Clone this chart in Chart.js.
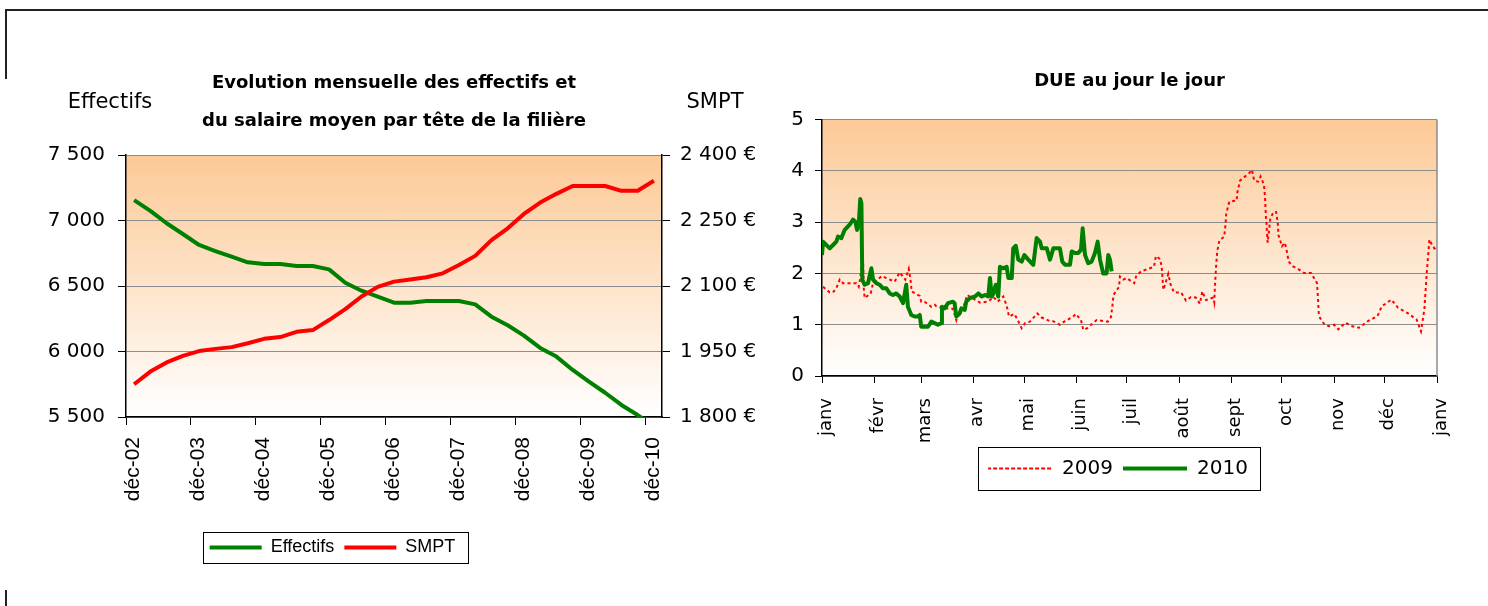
<!DOCTYPE html>
<html lang="fr">
<head>
<meta charset="utf-8">
<title>Effectifs, SMPT et DUE</title>
<script src="https://cdn.jsdelivr.net/npm/chart.js@4.4.1/dist/chart.umd.min.js"></script>
<style>
  body { margin: 0; background: #fff; width: 1488px; height: 606px; overflow: hidden; position: relative; }
  canvas { position: absolute; top: 0; }
  #effectifs { left: 0; }
  #due { left: 770px; }
  .trait { position: absolute; background: #222; }
</style>
</head>
<body>
<div class="trait" style="left:5px;top:9px;width:1483px;height:2px"></div>
<div class="trait" style="left:5px;top:9px;width:2px;height:70px"></div>
<div class="trait" style="left:5px;top:590px;width:2px;height:16px"></div>
<canvas id="effectifs" width="770" height="606"></canvas>
<canvas id="due" width="718" height="606"></canvas>
<script>
console.log('graphiques charges');

// ---- graphique de gauche : un point par trimestre (T1 2003 -> T1 2011)
const etiquettesDec = ['déc-02', 'déc-03', 'déc-04', 'déc-05', 'déc-06', 'déc-07', 'déc-08', 'déc-09', 'déc-10'];
const effectifs = [7156, 7073, 6979, 6897, 6813, 6767, 6724, 6681, 6668, 6668, 6653,
                   6653, 6627, 6525, 6464, 6418, 6373, 6373, 6385, 6385, 6385, 6360,
                   6266, 6200, 6121, 6027, 5961, 5859, 5770, 5685, 5592, 5515, 5430];
const smpt = [1875, 1904, 1925, 1940, 1951, 1956, 1960, 1969, 1979, 1983, 1995,
              1999, 2022, 2047, 2076, 2098, 2110, 2115, 2120, 2129, 2148, 2169,
              2205, 2232, 2265, 2291, 2311, 2329, 2329, 2329, 2318, 2318, 2341];
const etiquettesEffectifs = ['5 500', '6 000', '6 500', '7 000', '7 500'];
const etiquettesSmpt = ['1 800 €', '1 950 €', '2 100 €', '2 250 €', '2 400 €'];

// ---- graphique de droite : DUE au jour le jour (jour de l'annee, valeur)
const moisDue = ['janv', 'févr', 'mars', 'avr', 'mai', 'juin', 'juil', 'août', 'sept', 'oct', 'nov', 'déc', 'janv'];
const debutsMois = [0, 31, 59, 90, 120, 151, 181, 212, 243, 273, 304, 334, 365];
const etiquettesDue = ['0', '1', '2', '3', '4', '5'];
const jours2009 = [0.6, 4.6, 6.5, 8.5, 10.5, 12.5, 15, 20.4, 21.8, 22.7, 23.3, 24.3, 24.8, 25.3, 28.9, 30.3,
  35.6, 38.2, 43.1, 46.1, 49.4, 51.5, 52.6, 53.2, 58, 58.9, 60.9, 64.9, 66.9, 68.2, 75.8, 77.7,
  79.7, 80.7, 83.7, 86.2, 93.8, 98.7, 101.7, 104.3, 107.6, 109.6, 111, 114.1, 115.9, 118.5, 120.5,
  123.4, 127.8, 130.4, 135.3, 137.1, 141.2, 144.2, 149.1, 150.6, 153.7, 155.1, 158, 159, 163,
  169.6, 171.5, 172.3, 173, 176.3, 176.8, 178.8, 180.8, 185.3, 186.4, 189.3, 192.7, 197, 198.2,
  200.6, 201.6, 202.1, 202.6, 203.6, 205.5, 206.9, 208.9, 213.1, 216, 219, 221.8, 224.3, 225.7,
  227.9, 232.2, 232.8, 233.2, 233.6, 234, 234.6, 235.8, 238.7, 239.5, 239.9, 241.7, 246.1, 246.5,
  248.1, 253.6, 255.2, 256.5, 258.9, 260.3, 262.3, 262.9, 263.2, 263.5, 263.8, 264, 264.2, 264.5,
  266.1, 268, 269.5, 270.5, 270.9, 273, 274.7, 275.7, 277, 279.3, 281.9, 286.1, 290.2, 293.8,
  294.4, 294.8, 295.6, 298.3, 300.9, 303.9, 306.5, 310.6, 314.7, 318.7, 324, 329.7, 332.3, 337.9,
  341.9, 347.4, 352.9, 355.5, 357.5, 358.9, 360.5, 362.4, 364.3];
const due2009 = [1.74, 1.63, 1.63, 1.71, 1.88, 1.81, 1.81, 1.81, 1.74, 1.91, 2.10, 2.36, 1.71, 1.52, 1.61, 1.81,
  1.95, 1.91, 1.84, 2.02, 1.88, 2.09, 1.86, 1.65, 1.56, 1.45, 1.45, 1.35, 1.39, 1.35, 1.31, 1.31,
  1.09, 1.22, 1.32, 1.58, 1.43, 1.45, 1.54, 1.45, 1.55, 1.37, 1.16, 1.21, 1.11, 0.93, 1.03,
  1.06, 1.22, 1.14, 1.07, 1.07, 1.00, 1.07, 1.16, 1.21, 1.09, 0.90, 0.94, 0.98, 1.09,
  1.06, 1.15, 1.35, 1.58, 1.74, 1.94, 1.88, 1.91, 1.81, 1.94, 2.04, 2.08, 2.13, 2.34,
  2.28, 2.13, 1.91, 1.68, 1.78, 1.99, 1.78, 1.63, 1.63, 1.47, 1.54, 1.53, 1.41, 1.65,
  1.48, 1.53, 1.44, 1.74, 1.97, 2.20, 2.43, 2.64, 2.72, 2.96, 3.16, 3.40, 3.42, 3.58,
  3.81, 3.96, 4.02, 3.81, 3.79, 3.89, 3.73, 3.50, 3.29, 3.08, 2.99, 2.84, 2.75, 2.60,
  3.07, 3.20, 3.20, 2.99, 2.75, 2.53, 2.60, 2.46, 2.23, 2.14, 2.10, 2.01, 2.01, 1.81,
  1.49, 1.23, 1.13, 1.00, 0.97, 1.00, 0.91, 1.04, 0.97, 0.94, 1.07, 1.17, 1.36, 1.49,
  1.33, 1.23, 1.10, 0.87, 1.30, 2.01, 2.66, 2.53, 2.46];
const jours2010 = [0, 0.6, 4.6, 6.7, 8.5, 9.5, 11.5, 13.5, 16.4, 18.4, 19.8, 20.8, 21.8, 22.7, 23.4, 23.9,
  25.3, 27.3, 29.3, 30.3, 32.2, 34.2, 36.2, 38.2, 40.2, 42.1, 44.1, 46.1, 48.1, 50, 51, 53,
  55, 57, 58, 58.9, 60.9, 62.9, 64.9, 66.9, 68.8, 70.8, 71.2, 72.8, 74.8, 77.7, 78.7, 79.7,
  81.7, 82.7, 84.7, 85.6, 87.7, 90.8, 92.8, 94.8, 96.7, 98.7, 99.7, 100.7, 101.7, 103.1, 104.6,
  105.6, 107.6, 109.6, 110.6, 112.6, 113.5, 115, 116.5, 118.5, 120.1, 122.4, 125.4, 127.4, 129.4,
  130.4, 133.4, 135.3, 137.3, 139.3, 141.2, 142.6, 144.2, 147.2, 148.2, 150.1, 152.1, 153.7, 154.7,
  156.1, 158, 160, 162, 163.6, 165, 166.9, 168.9, 169.9, 170.9, 171.9];
const due2010 = [2.36, 2.62, 2.49, 2.56, 2.62, 2.72, 2.69, 2.85, 2.95, 3.05, 3.01, 2.85, 2.95, 3.45, 3.37, 1.88,
  1.78, 1.81, 2.10, 1.88, 1.81, 1.78, 1.71, 1.71, 1.61, 1.58, 1.61, 1.55, 1.42, 1.78, 1.35, 1.19,
  1.16, 1.16, 1.19, 0.96, 0.96, 0.96, 1.06, 1.03, 1.00, 1.03, 1.35, 1.32, 1.42, 1.45, 1.42, 1.16,
  1.22, 1.32, 1.29, 1.45, 1.52, 1.55, 1.61, 1.55, 1.58, 1.55, 1.91, 1.55, 1.61, 1.78, 1.55,
  2.13, 2.10, 2.13, 1.91, 1.91, 2.49, 2.54, 2.27, 2.23, 2.36, 2.27, 2.17, 2.69, 2.62,
  2.49, 2.49, 2.27, 2.49, 2.49, 2.49, 2.23, 2.17, 2.17, 2.43, 2.40, 2.40, 2.46, 2.88,
  2.36, 2.20, 2.23, 2.40, 2.62, 2.27, 2.00, 2.00, 2.36, 2.27, 2.04];

const POLICE = "'Comic Sans MS', 'DejaVu Sans', sans-serif";
const POLICE_ARIAL = "Arial, 'Liberation Sans', sans-serif";
const VERT = '#008000';
const ROUGE = '#ff0000';
const GRILLE = '#8c8c8c';

// fond degrade peche -> blanc de la zone de trace
const fondDegrade = {
  id: 'fondDegrade',
  beforeDraw(chart) {
    const { ctx, chartArea: a } = chart;
    const g = ctx.createLinearGradient(0, a.top, 0, a.bottom);
    g.addColorStop(0, '#fcc996');
    g.addColorStop(1, '#ffffff');
    ctx.save();
    ctx.fillStyle = g;
    ctx.fillRect(a.left, a.top, a.right - a.left, a.bottom - a.top);
    ctx.restore();
  }
};

// legende deplacee + cadre noir autour
const cadreLegende = {
  id: 'cadreLegende',
  afterLayout(chart, args, opts) {
    const lg = chart.legend;
    const dx = opts.centre - (lg.left + lg.right) / 2;
    lg.left += dx;
    lg.right += dx;
  },
  afterDraw(chart, args, opts) {
    const lg = chart.legend;
    const pad = opts.padding;
    const lw = lg.lineWidths[0];
    const x0 = (lg.left + pad + lg.right - lw) / 2;
    const cy = lg.top + pad + opts.taille / 2;
    const ctx = chart.ctx;
    ctx.save();
    ctx.strokeStyle = '#000';
    ctx.lineWidth = 1;
    ctx.strokeRect(Math.round(x0 - opts.marge[0]) + 0.5, Math.round(cy - opts.hauteur / 2) + 0.5,
      Math.round(lw - pad + opts.marge[0] + opts.marge[1]), opts.hauteur);
    ctx.restore();
  }
};

// titres d'axes horizontaux (Effectifs / SMPT) et bord droit gris
const textesLibres = {
  id: 'textesLibres',
  afterDraw(chart, args, opts) {
    const ctx = chart.ctx;
    ctx.save();
    ctx.font = opts.police;
    ctx.fillStyle = '#000';
    ctx.textAlign = 'center';
    ctx.textBaseline = 'middle';
    (opts.textes || []).forEach(t => ctx.fillText(t.texte, t.x, t.y));
    if (opts.bordDroit) {
      const a = chart.chartArea;
      ctx.strokeStyle = GRILLE;
      ctx.lineWidth = 1.5;
      ctx.beginPath();
      ctx.moveTo(a.right, a.top);
      ctx.lineTo(a.right, a.bottom);
      ctx.stroke();
    }
    ctx.restore();
  }
};

function legendeTraits(chart) {
  return chart.data.datasets.map((ds, i) => ({
    text: ds.label,
    datasetIndex: i,
    fillStyle: 'rgba(0,0,0,0)',
    strokeStyle: ds.borderColor,
    lineWidth: ds.borderWidth,
    lineDash: ds.borderDash || [],
    fontColor: '#000',
    hidden: false
  }));
}

Chart.defaults.color = '#000';
Chart.defaults.animation = false;

const gauche = document.getElementById('effectifs');
new Chart(gauche, {
  type: 'line',
  data: {
    datasets: [{
      label: 'Effectifs',
      data: effectifs.map((v, i) => ({ x: 1.5 + 3 * i, y: v })),
      borderColor: VERT,
      backgroundColor: VERT,
      borderWidth: 4,
      pointRadius: 0,
      borderJoinStyle: 'round',
      order: 1,
      yAxisID: 'y'
    }, {
      label: 'SMPT',
      data: smpt.map((v, i) => ({ x: 1.5 + 3 * i, y: v })),
      borderColor: ROUGE,
      backgroundColor: ROUGE,
      borderWidth: 4,
      pointRadius: 0,
      borderJoinStyle: 'round',
      order: 0,
      yAxisID: 'y1'
    }]
  },
  options: {
    responsive: false,
    devicePixelRatio: 1,
    layout: { padding: { top: 0, left: 0, right: 0, bottom: 39.5 } },
    scales: {
      x: {
        type: 'linear',
        min: 0,
        max: 99,
        afterBuildTicks: s => { s.ticks = etiquettesDec.map((t, i) => ({ value: 12 * i })); },
        afterFit: s => { s.height = 111.5; },
        ticks: {
          autoSkip: false,
          minRotation: 90,
          maxRotation: 90,
          padding: 12,
          labelOffset: 7,
          font: { family: POLICE_ARIAL, size: 21 },
          callback: (v, i) => etiquettesDec[i]
        },
        grid: { drawOnChartArea: false, tickLength: 8, tickColor: '#000' },
        border: { color: '#000', width: 1.5 }
      },
      y: {
        position: 'left',
        min: 5500,
        max: 7500,
        ticks: {
          stepSize: 500,
          padding: 13,
          font: { family: POLICE, size: 20 },
          callback: (v, i) => etiquettesEffectifs[i]
        },
        afterFit: s => { s.width = 126; },
        grid: { color: GRILLE, tickColor: '#000', tickLength: 8 },
        border: { color: '#000', width: 1.5 }
      },
      y1: {
        position: 'right',
        min: 1800,
        max: 2400,
        ticks: {
          stepSize: 150,
          padding: 10,
          font: { family: POLICE, size: 20 },
          callback: (v, i) => etiquettesSmpt[i]
        },
        afterFit: s => { s.width = 108; },
        grid: { drawOnChartArea: false, tickColor: '#000', tickLength: 8 },
        border: { color: '#000', width: 1.5 }
      }
    },
    plugins: {
      title: {
        display: true,
        fullSize: false,
        text: ['Evolution mensuelle des effectifs et', 'du salaire moyen par tête de la filière'],
        font: { family: POLICE, size: 18, weight: 'bold', lineHeight: 38 / 18 },
        padding: { top: 64, bottom: 15 },
        color: '#000'
      },
      legend: {
        position: 'bottom',
        labels: {
          boxWidth: 52,
          boxHeight: 0,
          padding: 10,
          font: { family: POLICE_ARIAL, size: 18 },
          generateLabels: legendeTraits
        }
      },
      tooltip: { enabled: false },
      cadreLegende: { centre: 332.5, padding: 10, taille: 18, hauteur: 31, marge: [7, 12] },
      textesLibres: {
        police: '21px ' + POLICE,
        textes: [{ texte: 'Effectifs', x: 110, y: 103 }, { texte: 'SMPT', x: 715, y: 103 }]
      }
    }
  },
  plugins: [fondDegrade, cadreLegende, textesLibres]
});

const droite = document.getElementById('due');
new Chart(droite, {
  type: 'line',
  data: {
    datasets: [{
      label: '2009',
      data: due2009.map((v, i) => ({ x: jours2009[i], y: v })),
      borderColor: ROUGE,
      backgroundColor: ROUGE,
      borderWidth: 2,
      borderDash: [3, 3],
      pointRadius: 0,
      order: 1
    }, {
      label: '2010',
      data: due2010.map((v, i) => ({ x: jours2010[i], y: v })),
      borderColor: VERT,
      backgroundColor: VERT,
      borderWidth: 4,
      pointRadius: 0,
      borderJoinStyle: 'round',
      order: 0
    }]
  },
  options: {
    responsive: false,
    devicePixelRatio: 1,
    layout: { padding: { top: 0, left: 0, right: 51, bottom: 117.5 } },
    scales: {
      x: {
        type: 'linear',
        min: 0,
        max: 365,
        afterBuildTicks: s => { s.ticks = debutsMois.map(d => ({ value: d })); },
        afterFit: s => { s.height = 72.5; },
        ticks: {
          autoSkip: false,
          minRotation: 90,
          maxRotation: 90,
          padding: 15,
          labelOffset: 4,
          font: { family: POLICE, size: 18 },
          callback: (v, i) => moisDue[i]
        },
        grid: { drawOnChartArea: false, tickLength: 7, tickColor: '#000' },
        border: { color: '#000', width: 1.5 }
      },
      y: {
        min: 0,
        max: 5,
        ticks: {
          stepSize: 1,
          padding: 11,
          font: { family: POLICE, size: 20 },
          callback: (v, i) => etiquettesDue[i]
        },
        afterFit: s => { s.width = 52; },
        grid: { color: GRILLE, tickColor: '#000', tickLength: 7 },
        border: { color: '#000', width: 1.5 }
      }
    },
    plugins: {
      title: {
        display: true,
        fullSize: false,
        text: 'DUE au jour le jour',
        font: { family: POLICE, size: 18, weight: 'bold', lineHeight: 1.2 },
        padding: { top: 71, bottom: 27 },
        color: '#000'
      },
      legend: {
        position: 'bottom',
        labels: {
          boxWidth: 64,
          boxHeight: 0,
          padding: 10,
          font: { family: POLICE, size: 20 },
          generateLabels: legendeTraits
        }
      },
      tooltip: { enabled: false },
      cadreLegende: { centre: 348, padding: 10, taille: 20, hauteur: 43, marge: [10, 12] },
      textesLibres: { police: '20px ' + POLICE, textes: [], bordDroit: true }
    }
  },
  plugins: [fondDegrade, cadreLegende, textesLibres]
});
</script>
</body>
</html>
